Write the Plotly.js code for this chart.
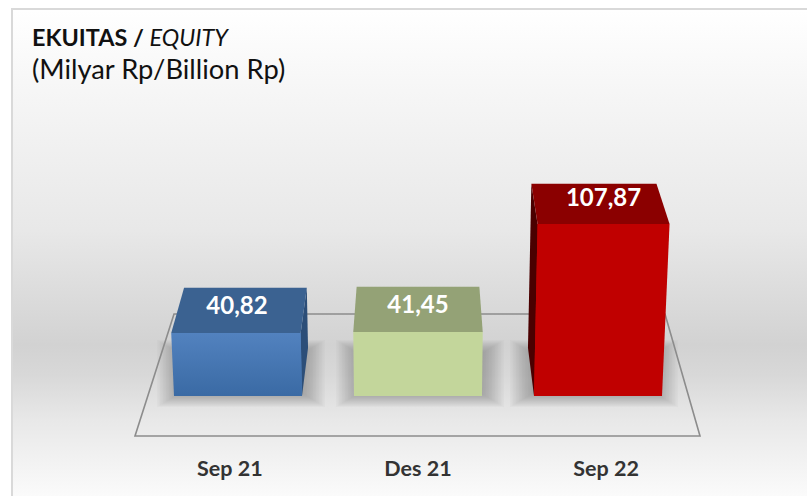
<!DOCTYPE html>
<html><head><meta charset="utf-8">
<script src="https://cdn.plot.ly/plotly-3.0.1.min.js"></script>
<style>
html,body{margin:0;padding:0;background:#fff;width:807px;height:496px;overflow:hidden}
#bg{position:absolute;left:11px;top:8px;width:796px;height:488px;box-sizing:border-box;border-left:2px solid #d9d9d9;border-top:2px solid #d9d9d9;
background:linear-gradient(to bottom,#ffffff 0,#f5f5f5 90px,#e8e8e8 220px,#d2d2d2 335px,#d8d8d8 365px,#e8e8e8 410px,#fbfbfb 488px)}
#chart{position:absolute;left:0;top:0;width:807px;height:496px}
</style></head><body>
<div id="bg"></div><div id="chart"></div>
<script>
// Data
const categories = ['Sep 21', 'Des 21', 'Sep 22'];
const values = [40.82, 41.45, 107.87];
const valueLabels = ['40,82', '41,45', '107,87'];

// Face colours
const frontColors = ['#4a7ab5', '#c3d69b', '#c00000'];
const frontGradients = [['#3a6aa4', '#5282bf'], ['#c3d69b', '#c3d69b'], ['#c00000', '#c00000']];
const topColors = ['#3b6291', '#94a276', '#8b0000'];
const sideColors = ['#2c4e78', null, '#4a0000'];

// Scale of the picture: 1 category = 180 px, 1 value unit = 1.6257 px
const pxX = 180, pxY = 1.6257, W = 807, H = 496, BOTTOM = 50;
const floorValue = 2.07, floorPx = 396, centerPx = 418;
const xr = [1 - centerPx / pxX, 1 + (W - centerPx) / pxX];
const yr = [floorValue - (H - BOTTOM - floorPx) / pxY, floorValue + floorPx / pxY];
const halfBar = 64 / pxX, backScale = 0.948, growth = 0.00018, backRise = 48 / pxY, backH = 0.955;

// Perspective projection in axis units
function project(i, side, back, v) {
  const hPx = (v - floorValue) * pxY;
  const s = (back ? backScale : 1) * (1 + growth * hPx);
  return [1 + ((i - 1) + side * halfBar) * s,
          back ? floorValue + backRise + (v - floorValue) * backH : v];
}
function face(points, color, grad) {
  const t = {type: 'scatter', mode: 'lines', x: [], y: [], fill: 'toself', fillcolor: color,
    line: {width: 0, color: color}, hoverinfo: 'skip', showlegend: false};
  points.forEach(p => { t.x.push(p[0]); t.y.push(p[1]); });
  t.x.push(t.x[0]); t.y.push(t.y[0]);
  if (grad) t.fillgradient = {type: 'vertical', colorscale: [[0, grad[0]], [1, grad[1]]]};
  return t;
}

const traces = [{
  type: 'bar', x: [0, 1, 2], y: values.map(v => v - floorValue), base: values.map(() => floorValue),
  width: 2 * halfBar, marker: {color: frontColors, line: {width: 0}}, hoverinfo: 'skip', showlegend: false
}];
values.forEach((v, i) => {
  const fbl = project(i, -1, false, floorValue), fbr = project(i, 1, false, floorValue);
  const ftl = project(i, -1, false, v), ftr = project(i, 1, false, v);
  const btl = project(i, -1, true, v), btr = project(i, 1, true, v);
  const bbl = project(i, -1, true, floorValue), bbr = project(i, 1, true, floorValue);
  if (sideColors[i]) {
    traces.push(i < 1 ? face([fbr, ftr, btr, bbr], sideColors[i]) : face([fbl, ftl, btl, bbl], sideColors[i]));
  }
  traces.push(face([fbl, ftl, ftr, fbr], frontColors[i], frontGradients[i]));
  traces.push(face([ftl, btl, btr, ftr], topColors[i]));
});
traces.push({
  type: 'scatter', mode: 'text', hoverinfo: 'skip', showlegend: false,
  x: values.map((v, i) => project(i, 0, false, v)[0] + (i === 0 ? 1 / pxX : 0)),
  y: values.map((v, i) => v + (i === 2 ? 24 : 25) / pxY),
  text: valueLabels.map(s => '<b>' + s + '</b>'), textposition: 'middle center',
  textfont: {family: 'Lato, Carlito, sans-serif', size: 24, color: '#ffffff', weight: 900}
});

// Soft shadows and the floor frame
const shapes = [];
const shadowCenters = [241, 420, 594];
const py = y => 1 - y / (H - BOTTOM), px = x => x / W;
shadowCenters.forEach(c => {
  for (let k = 0; k < 16; k++) {
    shapes.push({type: 'rect', xref: 'paper', yref: 'paper', layer: 'below', line: {width: 0},
      fillcolor: 'rgba(70,70,70,0.026)',
      x0: px(c - 84 + k * 1.5), x1: px(c + 84 - k * 1.5),
      y0: py(407 - k * 0.9), y1: py(340 + k * 0.9)});
  }
});
shapes.push({type: 'path', xref: 'paper', yref: 'paper', layer: 'below',
  path: `M${px(174)},${py(314)} L${px(665)},${py(314)} L${px(700)},${py(436)} L${px(135)},${py(436)} Z`,
  line: {color: '#8c8c8c', width: 1.6}, fillcolor: 'rgba(0,0,0,0)'});

const layout = {
  width: W, height: H, margin: {l: 0, r: 0, t: 0, b: BOTTOM, pad: 0},
  paper_bgcolor: 'rgba(0,0,0,0)', plot_bgcolor: 'rgba(0,0,0,0)',
  showlegend: false, shapes: shapes,
  title: {
    text: '<span style="font-size:23.4px"><b>EKUITAS / </b><i>EQUITY</i></span><br><span style="font-size:27.3px">(Milyar Rp/Billion Rp)</span>',
    x: 32 / W, xanchor: 'left', xref: 'paper', y: 1 - 46 / H, yanchor: 'top',
    font: {family: 'Lato, Carlito, sans-serif', size: 25.4, color: '#111111'}
  },
  xaxis: {
    range: xr, tickmode: 'array', tickvals: categories.map((c, i) => 1 + (i - 1) * 1.045), ticktext: categories.map(s => '<b>' + s + '</b>'),
    showgrid: false, zeroline: false, showline: false, ticks: '', ticklabelstandoff: 7,
    tickfont: {family: 'Lato, Carlito, sans-serif', size: 21.5, color: '#333333', weight: 900}
  },
  yaxis: {range: yr, visible: false, showgrid: false, zeroline: false}
};
Plotly.newPlot('chart', traces, layout, {displayModeBar: false, staticPlot: true});
</script></body></html>
